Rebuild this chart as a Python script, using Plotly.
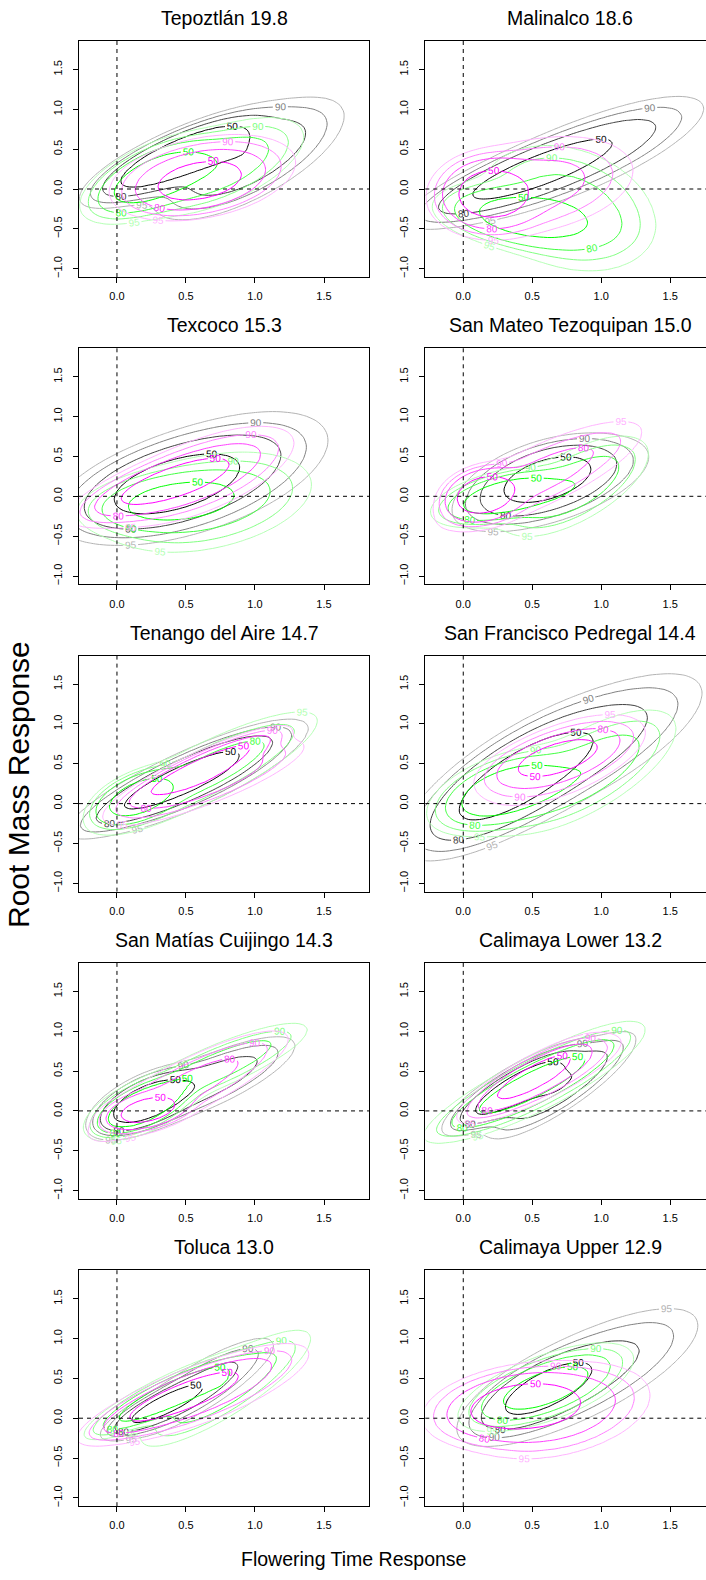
import numpy as np
import plotly.graph_objects as go

# ---------------- data ----------------
titles = ["Tepoztlán 19.8", "Malinalco 18.6", "Texcoco 15.3", "San Mateo Tezoquipan 15.0",
          "Tenango del Aire 14.7", "San Francisco Pedregal 14.4", "San Matías Cuijingo 14.3",
          "Calimaya Lower 13.2", "Toluca 13.0", "Calimaya Upper 12.9"]

hdr_levels = [50, 80, 90, 95]
x_ticks = [0.0, 0.5, 1.0, 1.5]
x_tick_text = ["0.0", "0.5", "1.0", "1.5"]
y_ticks = [-1.0, -0.5, 0.0, 0.5, 1.0, 1.5]
y_tick_text = ["\u22121.0", "\u22120.5", "0.0", "0.5", "1.0", "1.5"]

# Extents for each group and panel:
# (50% region x0, x1, y0, y1), (95% region x0, x1, y0, y1), (tilt of core, tilt of outer)
black_regions = [
    ((0.06, 0.94, 0.04, 0.77), (-0.19, 1.63, -0.37, 1.15), (0.80, 0.70)),
    ((-0.015, 1.055, -0.18, 0.615), (-0.18, 1.75, -0.41, 1.16), (0.85, 0.80)),
    ((-0.09, 0.855, -0.26, 0.53), (-0.26, 1.54, -0.54, 1.07), (0.50, 0.55)),
    ((0.30, 0.915, -0.06, 0.49), (-0.07, 1.33, -0.43, 0.78), (0.45, 0.60)),
    ((-0.03, 0.87, -0.13, 0.68), (-0.16, 1.375, -0.35, 1.02), (0.88, 0.85)),
    ((-0.075, 0.87, -0.26, 0.865), (-0.26, 1.74, -0.49, 1.64), (0.75, 0.75)),
    ((-0.02, 0.54, -0.13, 0.38), (-0.19, 1.28, -0.34, 0.92), (0.60, 0.80)),
    ((0.105, 0.75, -0.025, 0.61), (-0.06, 1.25, -0.34, 0.99), (0.85, 0.85)),
    ((0.12, 0.61, -0.04, 0.40), (-0.09, 1.13, -0.27, 0.99), (0.85, 0.85)),
    ((0.31, 0.915, 0.06, 0.69), (-0.03, 1.69, -0.34, 1.37), (0.70, 0.75)),
]
green_regions = [
    ((0.00, 0.69, -0.16, 0.45), (-0.21, 1.34, -0.43, 0.89), (0.60, 0.60)),
    ((0.12, 0.88, -0.60, -0.12), (-0.16, 1.39, -1.02, 0.53), (-0.30, -0.25)),
    ((0.04, 0.82, -0.30, 0.18), (-0.13, 1.41, -0.70, 0.55), (0.30, 0.35)),
    ((0.03, 0.75, -0.20, 0.22), (-0.16, 1.33, -0.49, 0.74), (0.50, 0.65)),
    ((-0.05, 0.39, -0.14, 0.30), (-0.22, 1.45, -0.38, 1.14), (0.50, 0.85)),
    ((0.02, 0.80, -0.13, 0.48), (-0.20, 1.53, -0.42, 1.15), (0.50, 0.70)),
    ((-0.05, 0.54, -0.19, 0.40), (-0.21, 1.375, -0.34, 1.09), (0.60, 0.85)),
    ((0.06, 0.87, -0.07, 0.67), (-0.15, 1.30, -0.32, 1.11), (0.88, 0.85)),
    ((0.04, 0.80, -0.02, 0.63), (-0.20, 1.40, -0.34, 1.09), (0.88, 0.85)),
    ((0.26, 0.89, 0.08, 0.63), (0.06, 1.20, -0.08, 0.92), (0.60, 0.65)),
]
magenta_regions = [
    ((0.31, 0.89, -0.13, 0.33), (-0.04, 1.28, -0.38, 0.68), (0.30, 0.35)),
    ((-0.03, 0.45, -0.35, 0.22), (-0.23, 1.23, -0.62, 0.66), (0.00, 0.30)),
    ((-0.04, 0.79, -0.14, 0.47), (-0.13, 1.28, -0.37, 0.87), (0.75, 0.65)),
    ((-0.03, 0.36, -0.20, 0.24), (-0.21, 1.28, -0.43, 0.93), (0.20, 0.80)),
    ((0.27, 0.95, 0.13, 0.72), (-0.10, 1.34, -0.26, 0.96), (0.90, 0.85)),
    ((0.40, 0.96, 0.35, 0.79), (0.09, 1.31, -0.01, 1.10), (0.60, 0.60)),
    ((0.04, 0.41, -0.13, 0.16), (-0.20, 1.23, -0.38, 0.99), (0.40, 0.85)),
    ((0.26, 0.77, 0.16, 0.69), (-0.03, 1.13, -0.15, 0.97), (0.85, 0.85)),
    ((0.03, 0.855, -0.08, 0.59), (-0.10, 1.39, -0.29, 0.92), (0.85, 0.80)),
    ((0.045, 0.795, -0.13, 0.44), (-0.16, 1.35, -0.50, 0.70), (0.30, 0.35)),
]

group_colors = {
    "black": ["#000000", "#404040", "#808080", "#b3b3b3"],
    "green": ["#00ff00", "#40ff40", "#80ff80", "#b3ffb3"],
    "magenta": ["#ff00ff", "#ff40ff", "#ff80ff", "#ffb3ff"],
}

# ---------------- layout geometry ----------------
W, H = 706, 1580
FONT = "Liberation Sans, Arial, Helvetica, sans-serif"
col_px = [(79.0, 369.0), (425.3, 706.0)]
x_ranges = [[-0.275, 1.826], [-0.275, 1.759]]
y_range = [-1.104, 1.857]
row_top0, row_step, plot_h = 41.0, 307.3, 236.0

fx = np.linspace(-0.8, 2.4, 129)
fy = np.linspace(-1.8, 2.6, 177)
FX, FY = np.meshgrid(fx, fy)
gx = np.linspace(-0.7, 2.3, 111)
gy = np.linspace(-1.6, 2.4, 131)
GX, GY = np.meshgrid(gx, gy)


def density(comps, X, Y):
    d = np.zeros_like(X)
    for w, mx, my, sx, sy, r in comps:
        u = (X - mx) / sx
        v = (Y - my) / sy
        q = (u * u - 2 * r * u * v + v * v) / (1 - r * r)
        d += w * np.exp(-q / 2) / (2 * np.pi * sx * sy * np.sqrt(1 - r * r))
    return d


def hdr_coverage(d):
    flat = d.ravel()
    order = np.argsort(-flat)
    cs = np.cumsum(flat[order])
    cs /= cs[-1]
    cov = np.empty_like(flat)
    cov[order] = cs
    return (100 * cov).reshape(d.shape)


def bbox(mask):
    return np.array([FX[mask].min(), FX[mask].max(), FY[mask].min(), FY[mask].max()])


def components(region, iters=14):
    """Core + outer density whose 50% / 95% regions span the read extents."""
    b50, b95, (r50, r95) = region
    t50 = np.array(b50, float)
    t95 = np.array(b95, float)
    core = np.array([(t50[0] + t50[1]) / 2, (t50[2] + t50[3]) / 2,
                     (t50[1] - t50[0]) / 2 / 1.55, (t50[3] - t50[2]) / 2 / 1.55])
    outer = np.array([(t95[0] + t95[1]) / 2, (t95[2] + t95[3]) / 2,
                      (t95[1] - t95[0]) / 2 / 2.04, (t95[3] - t95[2]) / 2 / 2.04])

    def comps(c, o):
        return [(0.6, c[0], c[1], c[2], c[3], r50), (0.4, o[0], o[1], o[2], o[3], r95)]

    best, best_err = comps(core, outer), np.inf
    for _ in range(iters):
        cov = hdr_coverage(density(comps(core, outer), FX, FY))
        m50 = bbox(cov <= 50)
        m95 = bbox(cov <= 95)
        err = np.abs(m50 - t50).sum() + np.abs(m95 - t95).sum()
        if err < best_err:
            best_err, best = err, comps(core, outer)
        core, outer = core.copy(), outer.copy()
        for params, m, tgt in ((core, m50, t50), (outer, m95, t95)):
            mc = np.array([(m[0] + m[1]) / 2, (m[2] + m[3]) / 2])
            mh = np.array([(m[1] - m[0]) / 2, (m[3] - m[2]) / 2])
            tc = np.array([(tgt[0] + tgt[1]) / 2, (tgt[2] + tgt[3]) / 2])
            th = np.array([(tgt[1] - tgt[0]) / 2, (tgt[3] - tgt[2]) / 2])
            params[0:2] += 0.35 * (tc - mc)
            params[2:4] *= np.clip((th / np.maximum(mh, 1e-3)) ** 0.5, 0.85, 1.15)
            params[2:4] = np.maximum(params[2:4], 0.04)
    return best


fig = go.Figure()
annotations = []
shapes = []
layout_axes = {}

for i, title in enumerate(titles):
    row, col = divmod(i, 2)
    top = row_top0 + row_step * row
    bottom = top + plot_h
    x0, x1 = col_px[col]
    xa = "x" if i == 0 else f"x{i+1}"
    ya = "y" if i == 0 else f"y{i+1}"
    xkey = "xaxis" if i == 0 else f"xaxis{i+1}"
    ykey = "yaxis" if i == 0 else f"yaxis{i+1}"

    layout_axes[xkey] = dict(
        domain=[x0 / W, x1 / W], range=x_ranges[col], anchor=ya,
        tickvals=x_ticks, ticktext=x_tick_text, ticks="outside", ticklen=5,
        tickwidth=1, tickcolor="black", showline=True, linecolor="black", linewidth=1,
        mirror=True, showgrid=False, zeroline=False,
        tickfont=dict(family=FONT, size=11, color="black"), ticklabelstandoff=4,
    )
    layout_axes[ykey] = dict(
        domain=[1 - bottom / H, 1 - top / H], range=y_range, anchor=xa,
        tickvals=y_ticks, ticktext=y_tick_text, ticks="outside", ticklen=5,
        tickwidth=1, tickcolor="black", showline=True, linecolor="black", linewidth=1,
        mirror=(col == 0), showgrid=False, zeroline=False, tickangle=-90,
        tickfont=dict(family=FONT, size=11, color="black"), ticklabelstandoff=7,
    )

    for gname, regions in (("black", black_regions), ("green", green_regions),
                           ("magenta", magenta_regions)):
        z = hdr_coverage(density(components(regions[i]), GX, GY)).astype(np.float32)
        cols = group_colors[gname]
        for (lo, hi), (c_lo, c_hi) in (((50, 80), (cols[0], cols[1])),
                                        ((90, 95), (cols[2], cols[3]))):
            fig.add_trace(go.Contour(
                x=gx.astype(np.float32), y=gy.astype(np.float32), z=z,
                xaxis=xa, yaxis=ya, autocontour=False,
                contours=dict(start=lo, end=hi, size=hi - lo, coloring="lines",
                              showlabels=True, labelformat=".0f",
                              labelfont=dict(family=FONT, size=10)),
                colorscale=[[0, c_lo], [1, c_hi]],
                showscale=False, line=dict(width=1, smoothing=1),
                hoverinfo="skip",
            ))

    shapes.append(dict(type="line", xref=xa, yref=f"{ya} domain", x0=0, x1=0, y0=0, y1=1,
                       line=dict(color="black", width=1, dash="4px,4px")))
    shapes.append(dict(type="line", xref=f"{xa} domain", yref=ya, x0=0, x1=1, y0=0, y1=0,
                       line=dict(color="black", width=1, dash="4px,4px")))

    cx = (x0 + (x0 + 290.0)) / 2
    annotations.append(dict(text=title, x=cx / W, y=1 - (top - 23) / H, xref="paper",
                            yref="paper", xanchor="center", yanchor="middle",
                            showarrow=False, font=dict(family=FONT, size=19.5, color="black")))

annotations.append(dict(text="Root Mass Response", x=18 / W, y=1 - 785 / H, xref="paper",
                        yref="paper", xanchor="center", yanchor="middle", textangle=-90,
                        showarrow=False, font=dict(family=FONT, size=30, color="black")))
annotations.append(dict(text="Flowering Time Response", x=353 / W, y=1 - 1559 / H,
                        xref="paper", yref="paper", xanchor="center", yanchor="middle",
                        showarrow=False, font=dict(family=FONT, size=19.5, color="black")))

fig.update_layout(
    width=W, height=H, margin=dict(l=0, r=0, t=0, b=0, pad=0),
    paper_bgcolor="white", plot_bgcolor="white", showlegend=False,
    template="none", annotations=annotations, shapes=shapes,
    font=dict(family=FONT, color="black"),
    **layout_axes,
)

fig.write_html("out.html")
